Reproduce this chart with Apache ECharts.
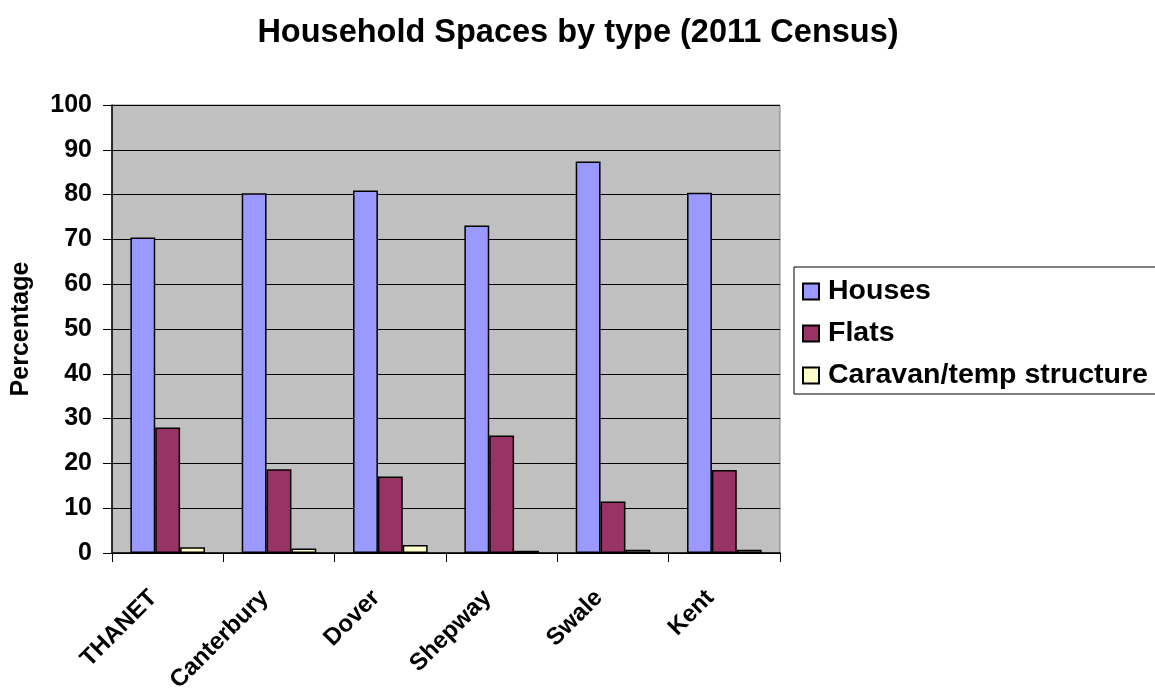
<!DOCTYPE html>
<html><head><meta charset="utf-8">
<script src="https://cdn.jsdelivr.net/npm/echarts@6/dist/echarts.min.js"></script>
<style>html,body{margin:0;padding:0;background:#fff}#c{width:1155px;height:689px}</style>
</head><body><div id="c"></div>
<script>
const categories = ['THANET','Canterbury','Dover','Shepway','Swale','Kent'];
const houses = [70.4, 80.3, 80.9, 73.1, 87.4, 80.4];
const flats = [28.0, 18.7, 17.1, 26.2, 11.5, 18.5];
const caravan = [1.3, 1.0, 1.8, 0.5, 0.7, 0.7];
const yTicks = [0,10,20,30,40,50,60,70,80,90,100];

const font = '"Liberation Sans", Arial, sans-serif';
const chart = echarts.init(document.getElementById('c'));
const mk = (name, data, color) => ({
  name, type: 'bar', data, barGap: '0%', barCategoryGap: '33%',
  itemStyle: { color, borderColor: '#000', borderWidth: 1.5 }
});
chart.setOption({
  animation: false,
  backgroundColor: '#fff',
  title: {
    text: 'Household Spaces by type (2011 Census)', left: 573, textAlign: 'center', top: 12,
    textStyle: { fontFamily: font, fontWeight: 'bold', fontSize: 32.5, color: '#000' }
  },
  grid: { left: 112, top: 105, width: 668, height: 448, containLabel: false, outerBoundsMode: 'none',
    show: true, backgroundColor: '#C0C0C0', borderColor: '#808080', borderWidth: 1 },
  legend: {
    orient: 'vertical', left: 794, top: 267, itemGap: 13, itemWidth: 16, itemHeight: 16,
    padding: [10, 10, 4, 8], borderColor: '#000', borderWidth: 1, backgroundColor: '#fff',
    icon: 'rect',
    textStyle: { fontFamily: font, fontWeight: 'bold', fontSize: 28.5, color: '#000', padding: [0,0,0,4] },
    data: ['Houses','Flats','Caravan/temp structure']
  },
  xAxis: {
    type: 'category', data: categories,
    axisLine: { lineStyle: { color: '#000', width: 1.5 } },
    axisTick: { show: true, length: 9, lineStyle: { color: '#000' } },
    axisLabel: { rotate: 45, margin: 27, padding: [0, 20, 0, 0], fontFamily: font, fontWeight: 'bold', fontSize: 24, color: '#000' }
  },
  yAxis: {
    type: 'value', min: yTicks[0], max: yTicks[yTicks.length-1], interval: 10,
    name: 'Percentage', nameLocation: 'middle', nameGap: 78, nameRotate: 90,
    nameTextStyle: { fontFamily: font, fontWeight: 'bold', fontSize: 25, color: '#000' },
    axisLine: { show: true, lineStyle: { color: '#000', width: 1.5 } },
    axisTick: { show: true, length: 9, lineStyle: { color: '#000' } },
    axisLabel: { margin: 20, fontFamily: font, fontWeight: 'bold', fontSize: 25, color: '#000' },
    splitLine: { show: true, lineStyle: { color: '#000', width: 1 } }
  },
  series: [
    mk('Houses', houses, '#9999FF'),
    mk('Flats', flats, '#993366'),
    mk('Caravan/temp structure', caravan, '#FFFFCC')
  ]
});
</script></body></html>
